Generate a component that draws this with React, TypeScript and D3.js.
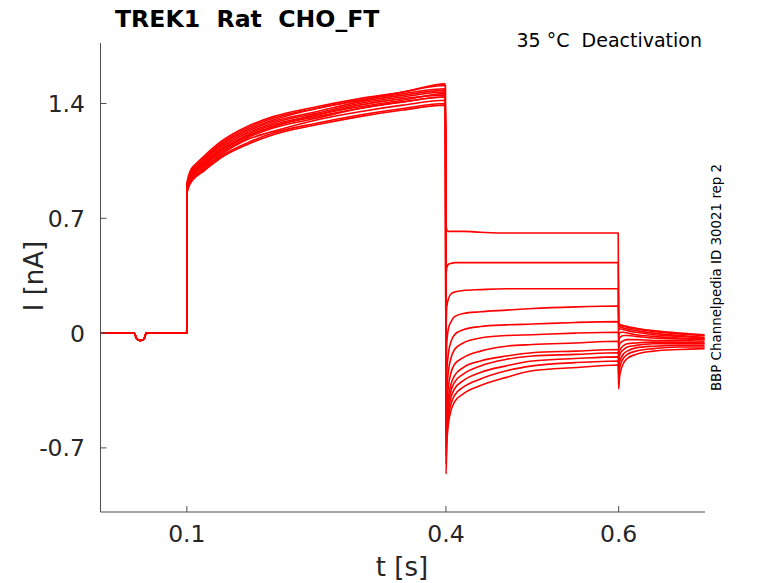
import * as d3 from "d3";

const W = 778;
const H = 583;

const xTicks = [0.1, 0.4, 0.6];
const yTicks = [-0.7, 0, 0.7, 1.4];

// holding period before the step (same for every sweep)
const preT = [0, 0.039, 0.042, 0.046, 0.05, 0.053, 0.0999];
const preI = [0.0, 0.0, -0.035, -0.045, -0.04, 0.0, 0.0];

// activation step 0.1 - 0.4 s
const actT = [0.1001, 0.102, 0.105, 0.11, 0.12, 0.14, 0.17, 0.2, 0.25, 0.3, 0.35, 0.3995];
const actI = [
  [0.89, 0.94, 0.98, 1.01, 1.06, 1.15, 1.24, 1.3, 1.37, 1.42, 1.47, 1.51],
  [0.88, 0.93, 0.97, 1.0, 1.04, 1.13, 1.22, 1.28, 1.34, 1.4, 1.44, 1.47],
  [0.87, 0.92, 0.95, 0.98, 1.02, 1.1, 1.19, 1.25, 1.31, 1.37, 1.41, 1.44],
  [0.9, 0.95, 0.99, 1.02, 1.07, 1.16, 1.25, 1.31, 1.37, 1.42, 1.46, 1.49],
  [0.85, 0.89, 0.93, 0.96, 1.0, 1.08, 1.16, 1.22, 1.28, 1.33, 1.37, 1.4],
  [0.91, 0.96, 1.0, 1.03, 1.08, 1.17, 1.26, 1.32, 1.38, 1.43, 1.47, 1.52],
  [0.86, 0.9, 0.94, 0.97, 1.01, 1.09, 1.18, 1.23, 1.3, 1.35, 1.39, 1.42],
  [0.88, 0.93, 0.96, 0.99, 1.04, 1.12, 1.21, 1.27, 1.33, 1.39, 1.43, 1.45],
  [0.89, 0.94, 0.97, 1.0, 1.05, 1.14, 1.23, 1.29, 1.35, 1.41, 1.45, 1.48],
  [0.85, 0.89, 0.92, 0.95, 0.99, 1.07, 1.15, 1.21, 1.27, 1.32, 1.36, 1.39],
  [0.88, 0.93, 0.96, 0.99, 1.03, 1.12, 1.2, 1.26, 1.33, 1.38, 1.42, 1.46],
  [0.87, 0.92, 0.96, 0.99, 1.03, 1.11, 1.2, 1.26, 1.32, 1.37, 1.41, 1.44],
];

// deactivation steps 0.4 - 0.6 s
const deacT = [0.4001, 0.401, 0.403, 0.406, 0.41, 0.42, 0.44, 0.47, 0.5, 0.55, 0.5995];
const deacI = [
  [0.67, 0.63, 0.62, 0.62, 0.62, 0.62, 0.615, 0.61, 0.61, 0.61, 0.61],
  [0.36, 0.4, 0.42, 0.425, 0.43, 0.43, 0.43, 0.43, 0.43, 0.43, 0.43],
  [0.05, 0.16, 0.21, 0.24, 0.25, 0.26, 0.265, 0.27, 0.27, 0.27, 0.27],
  [-0.22, -0.06, 0.03, 0.07, 0.1, 0.12, 0.13, 0.14, 0.15, 0.16, 0.165],
  [-0.4, -0.24, -0.12, -0.05, -0.01, 0.02, 0.04, 0.05, 0.055, 0.065, 0.07],
  [-0.52, -0.36, -0.23, -0.15, -0.1, -0.06, -0.03, -0.015, -0.01, 0.0, 0.005],
  [-0.6, -0.45, -0.32, -0.24, -0.19, -0.15, -0.11, -0.08, -0.07, -0.06, -0.05],
  [-0.66, -0.52, -0.39, -0.31, -0.26, -0.21, -0.17, -0.14, -0.12, -0.11, -0.1],
  [-0.7, -0.56, -0.43, -0.35, -0.3, -0.25, -0.2, -0.16, -0.14, -0.13, -0.12],
  [-0.75, -0.6, -0.47, -0.39, -0.34, -0.29, -0.24, -0.2, -0.17, -0.155, -0.145],
  [-0.8, -0.64, -0.51, -0.43, -0.38, -0.33, -0.28, -0.23, -0.2, -0.18, -0.17],
  [-0.86, -0.68, -0.55, -0.47, -0.42, -0.37, -0.32, -0.27, -0.23, -0.21, -0.195],
];

// tail 0.6 - 0.7 s
const tailT = [0.6001, 0.601, 0.603, 0.606, 0.61, 0.62, 0.64, 0.67, 0.6995];
const tailI = [
  [0.06, 0.055, 0.05, 0.045, 0.04, 0.03, 0.015, 0.0, -0.01],
  [0.05, 0.05, 0.045, 0.04, 0.035, 0.025, 0.01, -0.005, -0.015],
  [0.04, 0.04, 0.035, 0.03, 0.025, 0.015, 0.0, -0.015, -0.025],
  [0.02, 0.025, 0.025, 0.02, 0.015, 0.005, -0.01, -0.02, -0.03],
  [-0.02, 0.0, 0.005, 0.005, 0.0, -0.01, -0.02, -0.03, -0.035],
  [-0.06, -0.03, -0.02, -0.015, -0.015, -0.02, -0.03, -0.035, -0.04],
  [-0.1, -0.07, -0.055, -0.045, -0.04, -0.04, -0.045, -0.045, -0.05],
  [-0.14, -0.11, -0.09, -0.075, -0.065, -0.06, -0.055, -0.055, -0.06],
  [-0.18, -0.14, -0.115, -0.1, -0.085, -0.075, -0.065, -0.065, -0.065],
  [-0.22, -0.18, -0.15, -0.125, -0.11, -0.09, -0.08, -0.075, -0.075],
  [-0.27, -0.22, -0.18, -0.15, -0.13, -0.11, -0.095, -0.085, -0.085],
  [-0.34, -0.27, -0.22, -0.18, -0.155, -0.13, -0.11, -0.1, -0.095],
];

const font = "'DejaVu Sans', sans-serif";

export default function App() {
  const left = 100.5;
  const right = 705;
  const top = 43;
  const bottom = 512;

  const x = d3.scaleLinear().domain([0, 0.7]).range([left, right]);
  const y = d3.scaleLinear().domain([-1.091, 1.769]).range([bottom, top]);

  const line = d3
    .line<[number, number]>()
    .x((d) => x(d[0]))
    .y((d) => y(d[1]))
    .curve(d3.curveMonotoneX);

  const sweeps = actI.map((_, k) => {
    const pts: [number, number][] = [];
    preT.forEach((t, i) => pts.push([t, preI[i]]));
    actT.forEach((t, i) => pts.push([t, actI[k][i]]));
    deacT.forEach((t, i) => pts.push([t, deacI[k][i]]));
    tailT.forEach((t, i) => pts.push([t, tailI[k][i]]));
    return pts;
  });

  const axisColor = "#4d4d4d";
  const textColor = "#262626";

  return (
    <svg
      width={W}
      height={H}
      style={{ position: "absolute", left: 0, top: 0, background: "#fff" }}
      fontFamily={font}
    >
      <defs>
        <clipPath id="plot">
          <rect x={left} y={top} width={right - left} height={bottom - top} />
        </clipPath>
      </defs>

      <g clipPath="url(#plot)">
        {sweeps.map((pts, i) => (
          <path
            key={i}
            d={line(pts) ?? ""}
            fill="none"
            stroke="#ff0000"
            strokeWidth={1.6}
            strokeLinejoin="round"
          />
        ))}
      </g>

      {/* axes */}
      <line x1={left} x2={left} y1={top} y2={bottom} stroke={axisColor} strokeWidth={1} />
      <line x1={left} x2={right} y1={bottom} y2={bottom} stroke={axisColor} strokeWidth={1} />

      {yTicks.map((v) => (
        <g key={v}>
          <line x1={left} x2={left + 6} y1={y(v)} y2={y(v)} stroke={axisColor} />
          <text
            x={85}
            y={y(v)}
            dy="0.36em"
            textAnchor="end"
            fontSize={23.5}
            fill={textColor}
          >
            {v}
          </text>
        </g>
      ))}

      {xTicks.map((v) => (
        <g key={v}>
          <line x1={x(v)} x2={x(v)} y1={bottom} y2={bottom - 6} stroke={axisColor} />
          <text x={x(v)} y={542} textAnchor="middle" fontSize={23.5} fill={textColor}>
            {v}
          </text>
        </g>
      ))}

      <text x={402} y={576} textAnchor="middle" fontSize={26} fill={textColor}>
        t [s]
      </text>
      <text
        transform={`translate(43,276) rotate(-90)`}
        textAnchor="middle"
        fontSize={26}
        fill={textColor}
      >
        I [nA]
      </text>

      <text x={115} y={27} fontSize={23.6} fontWeight="bold" fill="#000" style={{ whiteSpace: "pre" }}>
        TREK1  Rat  CHO_FT
      </text>
      <text x={702} y={47} textAnchor="end" fontSize={19} fill="#000" style={{ whiteSpace: "pre" }}>
        35 °C  Deactivation
      </text>
      <text
        transform={`translate(721,277.5) rotate(-90)`}
        textAnchor="middle"
        fontSize={13.4}
        fill="#000"
      >
        BBP Channelpedia ID 30021 rep 2
      </text>
    </svg>
  );
}
